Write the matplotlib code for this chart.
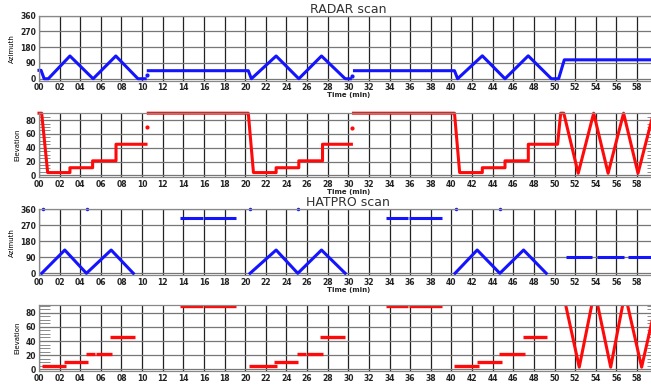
import numpy as np
import matplotlib.pyplot as plt
from matplotlib.ticker import MultipleLocator

nan = np.nan

# RADAR azimuth trace (min, deg)
radar_az_t = [0, 0.2, 0.5, 0.9, 3.0, 5.25, 7.45, 9.6, 10.3, nan,
              10.6, 20.3, 20.6, 23.0, 25.2, 27.4, 29.7, 30.2, nan,
              30.6, 40.3, 40.6, 43.0, 45.2, 47.45, 49.7, 50.4, 50.95, 60]
radar_az = [48, 48, 0, 0, 130, 0, 130, 0, 0, nan,
            46, 46, 0, 130, 0, 130, 0, 0, nan,
            46, 46, 0, 131, 0, 131, 0, 0, 108, 108]
radar_az_dot_t = [10.45, 30.4]
radar_az_dot = [19, 17]

# RADAR elevation trace
radar_el_t = [0, 0.26, 0.84, 3.0, 3.0, 5.2, 5.2, 7.47, 7.47, 10.38, nan,
              10.6, 20.3, 20.8, 23.0, 23.0, 25.2, 25.2, 27.5, 27.5, 30.3, nan,
              30.5, 40.3, 40.8, 43.0, 43.0, 45.2, 45.2, 47.46, 47.46, 50.3,
              50.6, 50.9, 52.3, 53.8, 55.2, 56.7, 58.1, 59.6]
radar_el = [90, 90, 4, 4, 11, 11, 21, 21, 45, 45, nan,
            90, 90, 4, 4, 11, 11, 21, 21, 45, 45, nan,
            90, 90, 4, 4, 11, 11, 21, 21, 45, 45,
            90, 90, 3, 90, 3, 90, 3, 90]
radar_el_dot_t = [10.47, 30.4]
radar_el_dot = [70, 69]

# HATPRO azimuth
hat_az_t = [0.26, 2.5, 4.6, 7.0, 9.15, nan,
            20.47, 23.0, 25.1, 27.4, 29.7, nan,
            40.35, 42.5, 44.7, 47.0, 49.2]
hat_az = [0, 131, 0, 131, 0, nan,
          0, 131, 0, 131, 0, nan,
          0, 131, 0, 131, 0]
hat_az_seg_start = [13.7, 16.05, 33.7, 35.9, 51.1, 54.1, 57.1]
hat_az_seg_end = [15.9, 19.1, 35.8, 39.1, 53.65, 56.7, 60]
hat_az_seg_val = [310, 310, 310, 310, 92, 92, 92]
hat_az_dot_t = [0.36, 4.69, 20.47, 25.1, 40.4, 44.7]
hat_az_dot = [360, 360, 360, 360, 360, 360]

# HATPRO elevation steps
hat_el_start = [0.26, 2.4, 4.6, 5.5, 6.9, 13.7, 16.05,
                20.4, 22.8, 25.0, 26.0, 27.3, 33.7, 35.9,
                40.3, 42.5, 44.6, 46.96]
hat_el_end = [2.6, 4.8, 5.4, 7.1, 9.3, 15.9, 19.1,
              23.05, 25.15, 25.9, 27.5, 29.7, 35.8, 39.1,
              42.7, 44.9, 47.1, 49.3]
hat_el_val = [4, 11, 21, 21, 45, 90, 90,
              4, 11, 21, 21, 45, 90, 90,
              4, 11, 21, 45]
hat_el_zz_t = [51.1, 52.4, 53.6, nan, 54.2, 55.45, 56.6, nan, 57.1, 58.45, 59.8]
hat_el_zz = [90, 3, 90, nan, 90, 3, 90, nan, 90, 3, 90]

xticks = np.arange(0, 60, 2)
xticklabels = ['%02d' % v for v in xticks]

W, H = 651, 387
fig = plt.figure(figsize=(W / 100, H / 100), dpi=100)

BLUE = '#1414ff'
RED = '#ff0a0a'


def make_ax(top, bottom, ylim, yticks, ylabel, minor=False, xlabel=True):
    ax = fig.add_axes([39 / W, 1 - bottom / H, 618.6 / W, (bottom - top) / H])
    ax.set_xlim(0, 60)
    ax.set_ylim(*ylim)
    ax.set_xticks(xticks)
    ax.set_xticklabels(xticklabels)
    ax.set_yticks(yticks)
    ax.tick_params(labelsize=5.5, length=0, pad=2)
    for lab in ax.get_xticklabels() + ax.get_yticklabels():
        lab.set_fontweight('bold')
        lab.set_color('#222222')
    ax.xaxis.grid(True, color='#222222', lw=0.9)
    ax.yaxis.grid(True, color='#777777', lw=0.9)
    ax.set_axisbelow(True)
    for s in ax.spines.values():
        s.set_color('#888888')
        s.set_linewidth(0.9)
    ax.set_ylabel(ylabel, fontsize=5, labelpad=4)
    if xlabel:
        ax.set_xlabel('Time (min)', fontsize=5, fontweight='bold', labelpad=0,
                      color='#222222')
    if minor:
        ax.yaxis.set_minor_locator(MultipleLocator(5))
        ax.tick_params(axis='y', which='minor', direction='in', length=8,
                       width=0.6, color='#777777', right=True)
    return ax


az_ticks = [0, 90, 180, 270, 360]
el_ticks = [0, 20, 40, 60, 80]

ax1 = make_ax(15.7, 80.5, (-10, 360), az_ticks, 'Azimuth')
ax1.plot(radar_az_t, radar_az, color=BLUE, lw=2.2, clip_on=False)
ax1.plot(radar_az_dot_t, radar_az_dot, 'o', color=BLUE, ms=2)
ax1.set_title('RADAR scan', fontsize=9, color='#333333', pad=0.5)

ax2 = make_ax(112.5, 177.4, (-3, 91), el_ticks, 'Elevation', minor=True)
ax2.plot(radar_el_t, radar_el, color=RED, lw=2.2, clip_on=False)
ax2.plot(radar_el_dot_t, radar_el_dot, 'o', color=RED, ms=2)

ax3 = make_ax(209.3, 275.1, (-10, 360), az_ticks, 'Azimuth')
ax3.plot(hat_az_t, hat_az, color=BLUE, lw=2.2)
ax3.hlines(hat_az_seg_val, hat_az_seg_start, hat_az_seg_end, color=BLUE, lw=2.2)
ax3.plot(hat_az_dot_t, hat_az_dot, 'o', color=BLUE, ms=1.5, clip_on=False)
ax3.set_title('HATPRO scan', fontsize=9, color='#333333', pad=0.5)

# bottom panel's time label falls outside the picture in the original
ax4 = make_ax(305.0, 371.4, (-3, 91), el_ticks, 'Elevation', minor=True, xlabel=False)
ax4.hlines(hat_el_val, hat_el_start, hat_el_end, color=RED, lw=2.4)
ax4.plot(hat_el_zz_t, hat_el_zz, color=RED, lw=2.2)

fig.savefig('out.png', dpi=100)
